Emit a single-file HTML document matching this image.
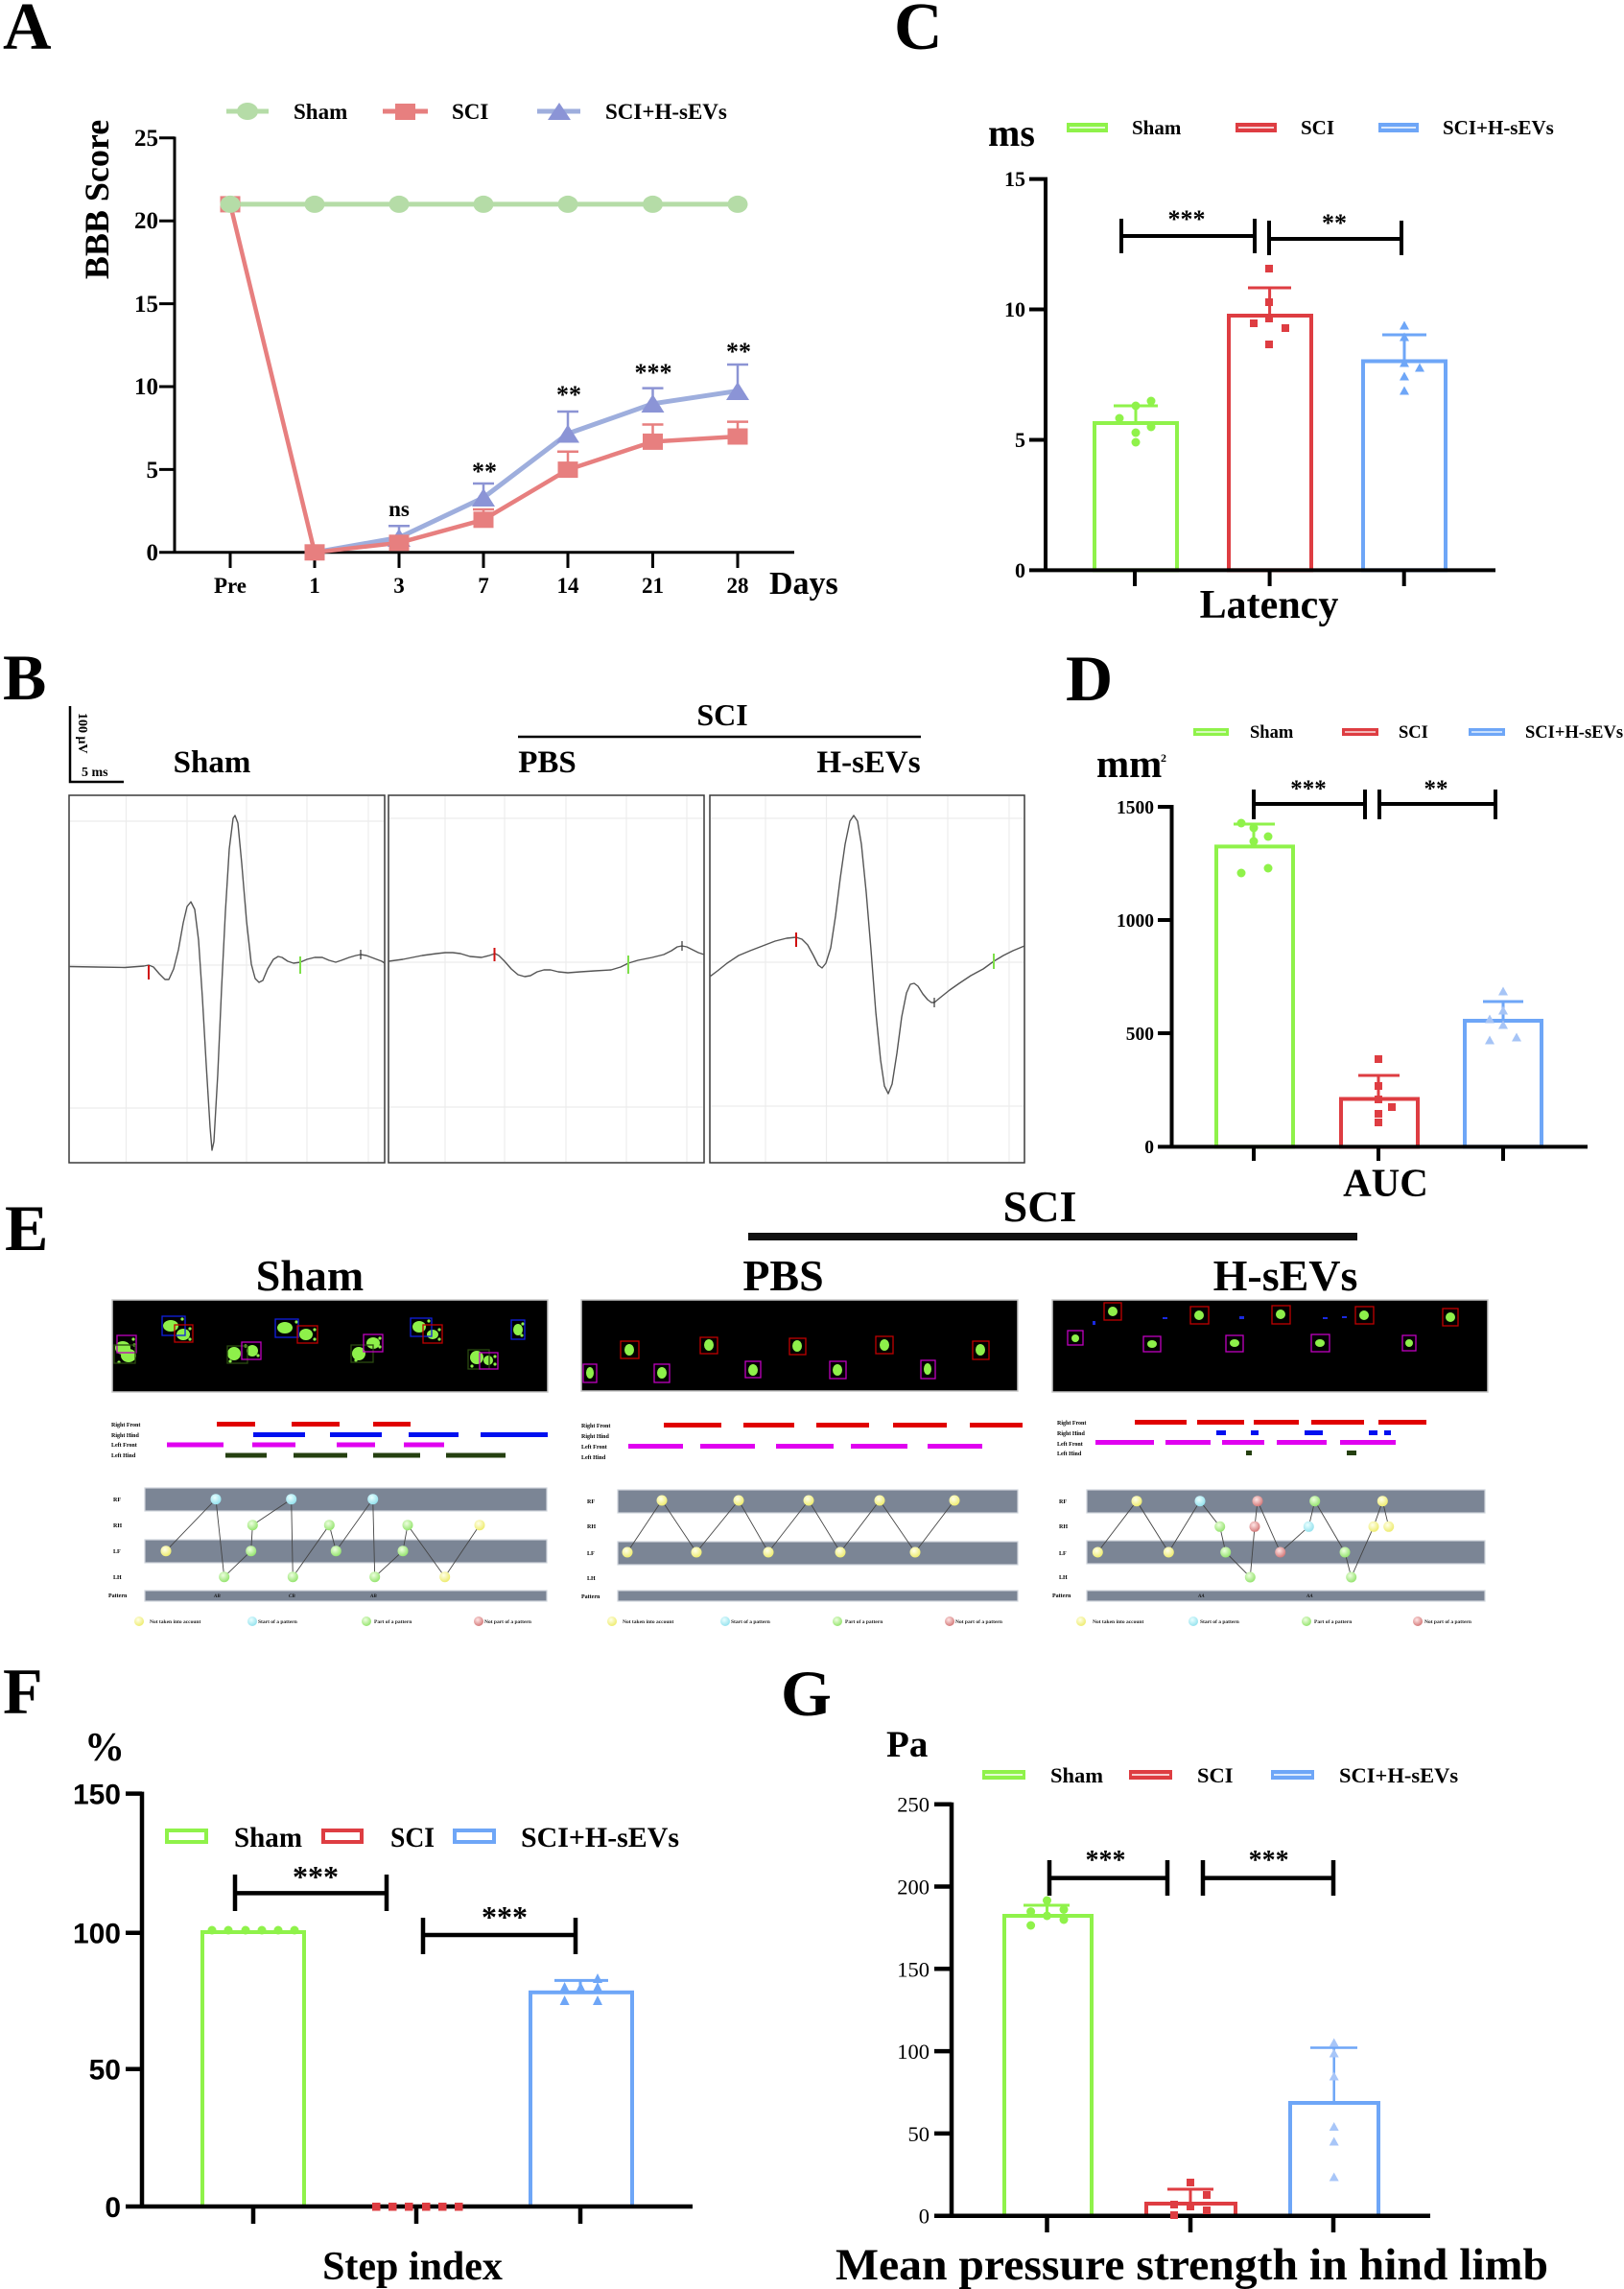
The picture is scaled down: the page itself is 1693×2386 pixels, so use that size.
<!DOCTYPE html>
<html><head><meta charset="utf-8">
<style>
html,body{margin:0;padding:0;background:#fff;}
svg{display:block;}
.s{font-family:"Liberation Serif",serif;font-weight:bold;}
.sr{font-family:"Liberation Serif",serif;font-weight:normal;}
.a{font-family:"Liberation Sans",sans-serif;font-weight:bold;}
</style></head>
<body>
<svg width="1693" height="2386" viewBox="0 0 1693 2386" xmlns="http://www.w3.org/2000/svg">
<defs>
<radialGradient id="gy" cx="40%" cy="35%" r="65%"><stop offset="0" stop-color="#ffffea"/><stop offset="1" stop-color="#eeec70"/></radialGradient>
<radialGradient id="gc" cx="40%" cy="35%" r="65%"><stop offset="0" stop-color="#eaffff"/><stop offset="1" stop-color="#96e2ee"/></radialGradient>
<radialGradient id="gg" cx="40%" cy="35%" r="65%"><stop offset="0" stop-color="#eeffe0"/><stop offset="1" stop-color="#96e470"/></radialGradient>
<radialGradient id="gr" cx="40%" cy="35%" r="65%"><stop offset="0" stop-color="#ffe6e6"/><stop offset="1" stop-color="#d47a7a"/></radialGradient>
</defs>
<rect width="1693" height="2386" fill="#fff"/>

<!-- ================= PANEL A ================= -->
<g class="s">
<text x="3" y="51" font-size="70">A</text>
<line x1="236" y1="116" x2="280" y2="116" stroke="#b5dca7" stroke-width="5"/>
<ellipse cx="258" cy="116" rx="11" ry="9" fill="#b5dca7"/>
<text x="306" y="124" font-size="23">Sham</text>
<line x1="399" y1="116" x2="446" y2="116" stroke="#e77f7f" stroke-width="5"/>
<rect x="412" y="108" width="21" height="17" fill="#e77f7f"/>
<text x="471" y="124" font-size="23">SCI</text>
<line x1="560" y1="116" x2="605" y2="116" stroke="#9eaedd" stroke-width="5"/>
<polygon points="583,107 595,125 571,125" fill="#8b94d6"/>
<text x="631" y="124" font-size="23">SCI+H-sEVs</text>
<text transform="translate(113,208) rotate(-90)" text-anchor="middle" font-size="36">BBB Score</text>
<path d="M182,142.5 V577.3 M166,143.8 H182 M166,230.2 H182 M166,316.6 H182 M166,403 H182 M166,489.4 H182 M166,575.8 H182 M180.5,575.8 H828 M240,575.8 V592 M328,575.8 V592 M416,575.8 V592 M504,575.8 V592 M592,575.8 V592 M680.5,575.8 V592 M769,575.8 V592" stroke="#000" stroke-width="3" fill="none"/>
<g font-size="25" text-anchor="end">
<text x="165" y="152">25</text><text x="165" y="238">20</text><text x="165" y="325">15</text>
<text x="165" y="411">10</text><text x="165" y="498">5</text><text x="165" y="584">0</text>
</g>
<g font-size="23" text-anchor="middle">
<text x="240" y="618">Pre</text><text x="328" y="618">1</text><text x="416" y="618">3</text>
<text x="504" y="618">7</text><text x="592" y="618">14</text><text x="680.5" y="618">21</text><text x="769" y="618">28</text>
</g>
<text x="802" y="619" font-size="34">Days</text>
<polyline points="328,575.8 416,560.4 504,518.8 592,452 680.5,420.8 769,407.5" fill="none" stroke="#9eaedd" stroke-width="5" stroke-linejoin="round"/>
<polyline points="240,212.9 328,575.8 416,565.8 504,541.8 592,489.6 680.5,460.4 769,455" fill="none" stroke="#e77f7f" stroke-width="4.5" stroke-linejoin="round"/>
<line x1="240" y1="212.9" x2="769" y2="212.9" stroke="#b5dca7" stroke-width="5"/>
<path d="M416,560 V548.3 M405,548.3 H427 M504,518 V504 M493,504 H515 M592,452 V429 M581,429 H603 M680.5,420 V404.6 M669.5,404.6 H691.5 M769,407 V380 M758,380 H780" stroke="#8c94d4" stroke-width="2.5" fill="none"/>
<path d="M504,541 V531 M493,531 H515 M592,489 V470.8 M581,470.8 H603 M680.5,460 V442.5 M669.5,442.5 H691.5 M769,455 V439.6 M758,439.6 H780" stroke="#e77f7f" stroke-width="2.5" fill="none"/>
<g fill="#8b94d6">
<polygon points="416,551 428,570 404,570"/>
<polygon points="504,509 516,528 492,528"/>
<polygon points="592,442.5 604,461.5 580,461.5"/>
<polygon points="680.5,411 692.5,430 668.5,430"/>
<polygon points="769,398 781,417 757,417"/>
</g>
<g fill="#e77f7f">
<rect x="229.5" y="204.4" width="21" height="17"/>
<rect x="317.5" y="567.3" width="21" height="17"/>
<rect x="405.5" y="557.3" width="21" height="17"/>
<rect x="493.5" y="533.3" width="21" height="17"/>
<rect x="581.5" y="481.1" width="21" height="17"/>
<rect x="670" y="451.9" width="21" height="17"/>
<rect x="758.5" y="446.5" width="21" height="17"/>
</g>
<g fill="#b5dca7">
<ellipse cx="240" cy="212.9" rx="10.5" ry="9"/>
<ellipse cx="328" cy="212.9" rx="10.5" ry="9"/>
<ellipse cx="416" cy="212.9" rx="10.5" ry="9"/>
<ellipse cx="504" cy="212.9" rx="10.5" ry="9"/>
<ellipse cx="592" cy="212.9" rx="10.5" ry="9"/>
<ellipse cx="680.5" cy="212.9" rx="10.5" ry="9"/>
<ellipse cx="769" cy="212.9" rx="10.5" ry="9"/>
</g>
<text x="416" y="538" font-size="23" text-anchor="middle">ns</text>
<g font-size="26" text-anchor="middle">
<text x="505" y="500">**</text>
<text x="593" y="420">**</text>
<text x="681" y="397">***</text>
<text x="770" y="375">**</text>
</g>
</g>

<!-- ================= PANEL C ================= -->
<g class="s">
<text x="932" y="51" font-size="70">C</text>
<text x="1030" y="152" font-size="40">ms</text>
<rect x="1112" y="128" width="43" height="10" fill="#8ff24a"/><line x1="1115" y1="133" x2="1152" y2="133" stroke="#fff" stroke-width="1.5"/>
<text x="1180" y="140" font-size="21">Sham</text>
<rect x="1288" y="128" width="43" height="10" fill="#de3d42"/><line x1="1291" y1="133" x2="1328" y2="133" stroke="#fff" stroke-width="1.5"/>
<text x="1356" y="140" font-size="21">SCI</text>
<rect x="1437" y="128" width="42" height="10" fill="#6ea6f7"/><line x1="1440" y1="133" x2="1476" y2="133" stroke="#fff" stroke-width="1.5"/>
<text x="1504" y="140" font-size="21">SCI+H-sEVs</text>
<rect x="1141" y="441" width="86" height="153.4" fill="#fff" stroke="#8ff24a" stroke-width="4"/>
<rect x="1281" y="329" width="86" height="265.4" fill="#fff" stroke="#de3d42" stroke-width="4"/>
<rect x="1421" y="376.5" width="86" height="217.9" fill="#fff" stroke="#6ea6f7" stroke-width="4"/>
<path d="M1090,184.6 V596.4 M1073,186.6 H1090 M1073,322.5 H1090 M1073,458.5 H1090 M1073,594.4 H1090 M1088,594.4 H1559 M1183,594.4 V611 M1323.6,594.4 V611 M1463.7,594.4 V611" stroke="#000" stroke-width="4" fill="none"/>
<g font-size="22" text-anchor="end">
<text x="1069" y="194">15</text><text x="1069" y="330">10</text><text x="1069" y="466">5</text><text x="1069" y="602">0</text>
</g>
<path d="M1184,441 V423 M1161,423 H1207" stroke="#8ff24a" stroke-width="3"/>
<path d="M1323.6,329 V300 M1301,300 H1346" stroke="#de3d42" stroke-width="3"/>
<path d="M1464,376 V349 M1441,349 H1487" stroke="#6ea6f7" stroke-width="3"/>
<g fill="#8ff24a">
<circle cx="1200" cy="418" r="4.5"/><circle cx="1184" cy="423" r="4.5"/><circle cx="1167" cy="436" r="4.5"/>
<circle cx="1184" cy="451" r="4.5"/><circle cx="1200" cy="445" r="4.5"/><circle cx="1184" cy="461" r="4.5"/>
</g>
<g fill="#de3d42">
<rect x="1319" y="276" width="8" height="8"/><rect x="1319" y="311" width="8" height="8"/><rect x="1303" y="333" width="8" height="8"/>
<rect x="1319" y="328" width="8" height="8"/><rect x="1336" y="338" width="8" height="8"/><rect x="1319" y="355" width="8" height="8"/>
</g>
<g fill="#6ea6f7">
<polygon points="1464,334.5 1469,343.5 1459,343.5"/><polygon points="1464,346.5 1469,355.5 1459,355.5"/>
<polygon points="1464,373.5 1469,382.5 1459,382.5"/><polygon points="1480,378.5 1485,387.5 1475,387.5"/>
<polygon points="1464,387.5 1469,396.5 1459,396.5"/><polygon points="1464,402.5 1469,411.5 1459,411.5"/>
</g>
<path d="M1169,246 H1308 M1169,228 V264 M1308,228 V264 M1323,249 H1461 M1323,230 V266 M1461,230 V266" stroke="#000" stroke-width="4" fill="none"/>
<g font-size="26" text-anchor="middle"><text x="1237" y="237">***</text><text x="1391" y="241">**</text></g>
<text x="1323" y="644" font-size="42" text-anchor="middle">Latency</text>
</g>

<!-- ================= PANEL B ================= -->
<g class="s">
<text x="3" y="729" font-size="68">B</text>
<path d="M73,736 V815 H129" stroke="#000" stroke-width="2.5" fill="none"/>
<text transform="translate(82,743) rotate(90)" font-size="14">100 μV</text>
<text x="85" y="809" font-size="14">5 ms</text>
<text x="221" y="805" font-size="33" text-anchor="middle">Sham</text>
<text x="570.5" y="805" font-size="33" text-anchor="middle">PBS</text>
<text x="905.5" y="805" font-size="33" text-anchor="middle">H-sEVs</text>
<text x="753" y="756" font-size="32" text-anchor="middle">SCI</text>
<line x1="540" y1="768" x2="960" y2="768" stroke="#000" stroke-width="2.5"/>
</g>
<g stroke="#ececec" stroke-width="1.2" fill="none">
<path d="M131.5,830 V1211 M195,830 V1211 M257,830 V1211 M320,830 V1211 M384,830 V1211 M73,856 H400 M73,1006 H400 M73,1155 H400"/>
<path d="M464,830 V1211 M526,830 V1211 M590,830 V1211 M653,830 V1211 M716,830 V1211 M406,853 H733 M406,1003 H733 M406,1154 H733"/>
<path d="M798,830 V1211 M861.5,830 V1211 M925,830 V1211 M988,830 V1211 M1052,830 V1211 M741,853 H1067 M741,1003 H1067 M741,1153 H1067"/>
</g>
<g fill="none" stroke="#3a3a3a" stroke-width="1.5">
<rect x="72" y="829" width="329" height="383"/>
<rect x="405" y="829" width="329" height="383"/>
<rect x="740" y="829" width="328" height="383"/>
</g>
<g fill="none" stroke="#555" stroke-width="1.4" stroke-linejoin="round">
<polyline points="72,1007.5 100,1008 130,1008.5 150,1007 155,1006 160,1008 166,1015 172,1021 176,1021 181,1010 186,990 191,962 195,945 199,940 203,948 207,980 211,1040 215,1110 219,1175 221,1199 223,1190 227,1120 231,1030 235,950 239,885 243,853 245,850 248,858 252,900 257,960 262,1005 266,1020 270,1024 274,1022 279,1010 285,1000 290,997 294,998 300,1002 306,1004 313,1003 320,1000 328,998 336,998 343,1001 350,1003 356,1001 364,998 371,996 376,995 382,996 390,999 398,1002 401,1004"/>
<polyline points="405,1002 420,1000 440,996 455,994 464,993 472,993 480,994 490,997 502,998 510,996 516,994 520,996 526,1002 533,1010 540,1016 547,1018 553,1017 560,1013 567,1011 574,1011 582,1013 592,1014 605,1013 620,1012 637,1011 647,1008 655,1004 665,1001 680,998 692,995 700,991 706,987 711,986 716,987 722,990 728,993 734,995"/>
<polyline points="740,1018 748,1012 758,1004 770,996 782,991 795,986 808,981 820,978 830,977 836,979 842,985 848,996 853,1006 857,1009 861,1004 866,988 871,955 876,915 881,880 886,856 890,850 894,856 898,880 903,930 908,990 913,1055 918,1105 922,1132 926,1140 930,1130 935,1098 940,1060 945,1035 949,1026 953,1025 957,1028 962,1036 967,1042 971,1045 974,1045 980,1040 990,1032 1000,1025 1012,1017 1025,1010 1036,1002 1046,996 1056,991 1068,986"/>
</g>
<g stroke-width="2">
<line x1="155" y1="1006" x2="155" y2="1021" stroke="#d01010"/>
<line x1="313" y1="997" x2="313" y2="1015" stroke="#7ee04a"/>
<line x1="376" y1="990" x2="376" y2="1000" stroke="#333" stroke-width="1.2"/>
<line x1="515.5" y1="988" x2="515.5" y2="1002" stroke="#d01010"/>
<line x1="655" y1="996" x2="655" y2="1015" stroke="#7ee04a"/>
<line x1="711" y1="981" x2="711" y2="991" stroke="#333" stroke-width="1.2"/>
<line x1="830" y1="972" x2="830" y2="987" stroke="#d01010"/>
<line x1="1036" y1="994" x2="1036" y2="1010" stroke="#7ee04a"/>
<line x1="974" y1="1040" x2="974" y2="1050" stroke="#333" stroke-width="1.2"/>
</g>

<!-- ================= PANEL D ================= -->
<g class="s">
<text x="1111" y="730" font-size="68">D</text>
<rect x="1244" y="759" width="37" height="8" fill="#8ff24a"/><line x1="1247" y1="763" x2="1278" y2="763" stroke="#fff" stroke-width="1.3"/>
<text x="1303" y="769" font-size="18.5">Sham</text>
<rect x="1399" y="759" width="38" height="8" fill="#de3d42"/><line x1="1402" y1="763" x2="1434" y2="763" stroke="#fff" stroke-width="1.3"/>
<text x="1458" y="769" font-size="18.5">SCI</text>
<rect x="1531" y="759" width="38" height="8" fill="#6ea6f7"/><line x1="1534" y1="763" x2="1566" y2="763" stroke="#fff" stroke-width="1.3"/>
<text x="1590" y="769" font-size="18.5">SCI+H-sEVs</text>
<text x="1143" y="810" font-size="41">mm</text>
<text x="1210" y="794" font-size="12">2</text>
<rect x="1268" y="882.4" width="80" height="313" fill="#fff" stroke="#8ff24a" stroke-width="4"/>
<rect x="1398" y="1145.5" width="80" height="50" fill="#fff" stroke="#de3d42" stroke-width="4"/>
<rect x="1527" y="1064" width="80" height="131.4" fill="#fff" stroke="#6ea6f7" stroke-width="4"/>
<path d="M1221.5,839 V1197.4 M1207,841 H1221.5 M1207,959 H1221.5 M1207,1077 H1221.5 M1207,1195.4 H1655 M1307,1195.4 V1210 M1437,1195.4 V1210 M1567,1195.4 V1210" stroke="#000" stroke-width="4" fill="none"/>
<g font-size="19.5" text-anchor="end">
<text x="1203" y="848">1500</text><text x="1203" y="966">1000</text><text x="1203" y="1084">500</text><text x="1203" y="1202">0</text>
</g>
<path d="M1307,882 V859 M1286,859 H1329" stroke="#8ff24a" stroke-width="3"/>
<path d="M1437,1145 V1121 M1416,1121 H1459" stroke="#de3d42" stroke-width="3"/>
<path d="M1567,1064 V1044 M1546,1044 H1588" stroke="#6ea6f7" stroke-width="3"/>
<g fill="#8ff24a">
<circle cx="1294" cy="858" r="4.5"/><circle cx="1307" cy="863" r="4.5"/><circle cx="1307" cy="877" r="4.5"/>
<circle cx="1322" cy="872" r="4.5"/><circle cx="1294" cy="910" r="4.5"/><circle cx="1322" cy="905" r="4.5"/>
</g>
<g fill="#de3d42">
<rect x="1433" y="1100" width="8" height="8"/><rect x="1433" y="1128" width="8" height="8"/><rect x="1433" y="1142" width="8" height="8"/>
<rect x="1447" y="1150" width="8" height="8"/><rect x="1433" y="1157" width="8" height="8"/><rect x="1433" y="1166" width="8" height="8"/>
</g>
<g fill="#a6c4f6">
<polygon points="1567,1028.5 1572,1037.5 1562,1037.5"/><polygon points="1567,1048.5 1572,1057.5 1562,1057.5"/>
<polygon points="1553,1057.5 1558,1066.5 1548,1066.5"/><polygon points="1567,1063.5 1572,1072.5 1562,1072.5"/>
<polygon points="1553,1079.5 1558,1088.5 1548,1088.5"/><polygon points="1581,1076.5 1586,1085.5 1576,1085.5"/>
</g>
<path d="M1307,838 H1423 M1307,823 V854 M1423,823 V854 M1438,838 H1559 M1438,823 V854 M1559,823 V854" stroke="#000" stroke-width="4" fill="none"/>
<g font-size="25" text-anchor="middle"><text x="1364" y="830">***</text><text x="1497" y="830">**</text></g>
<text x="1444.5" y="1246.5" font-size="41" text-anchor="middle">AUC</text>
</g>

<!-- ================= PANEL E ================= -->
<g class="s">
<text x="5" y="1303" font-size="68">E</text>
<text x="1084" y="1273" font-size="46" text-anchor="middle">SCI</text>
<rect x="780" y="1285" width="635" height="8" fill="#111"/>
<text x="323" y="1345" font-size="46" text-anchor="middle">Sham</text>
<text x="816.5" y="1345" font-size="46" text-anchor="middle">PBS</text>
<text x="1340" y="1345" font-size="46" text-anchor="middle">H-sEVs</text>
</g>
<g stroke="#c8c8c8" stroke-width="1.5">
<rect x="117" y="1355" width="454" height="96" fill="#000"/>
<rect x="606" y="1355" width="455" height="95" fill="#000"/>
<rect x="1097" y="1355" width="454" height="96" fill="#000"/>
</g>
<!-- box1 paws -->
<g fill="#8ef04a">
<ellipse cx="128" cy="1405" rx="8" ry="7"/><ellipse cx="134" cy="1413" rx="8" ry="7"/>
<ellipse cx="178" cy="1382" rx="8" ry="6"/><ellipse cx="191" cy="1391" rx="7" ry="6"/>
<ellipse cx="244" cy="1411" rx="7" ry="7"/><ellipse cx="263" cy="1408" rx="6" ry="6"/>
<ellipse cx="297" cy="1384" rx="8" ry="6"/><ellipse cx="319" cy="1391" rx="7" ry="6"/>
<ellipse cx="374" cy="1411" rx="7" ry="7"/><ellipse cx="389" cy="1400" rx="7" ry="6"/>
<ellipse cx="437" cy="1383" rx="7" ry="6"/><ellipse cx="451" cy="1391" rx="6" ry="5"/>
<ellipse cx="497" cy="1415" rx="7" ry="7"/><ellipse cx="509" cy="1418" rx="5" ry="5"/>
<ellipse cx="540" cy="1386" rx="5" ry="6"/>
</g>
<g fill="#8ef04a">
<circle cx="139" cy="1396" r="1.6"/><circle cx="140" cy="1402" r="1.6"/><circle cx="124" cy="1420" r="1.6"/>
<circle cx="190" cy="1375" r="1.6"/><circle cx="198" cy="1385" r="1.6"/><circle cx="198" cy="1396" r="1.6"/>
<circle cx="256" cy="1403" r="1.6"/><circle cx="269" cy="1413" r="1.6"/><circle cx="240" cy="1419" r="1.6"/>
<circle cx="309" cy="1378" r="1.6"/><circle cx="328" cy="1386" r="1.6"/><circle cx="328" cy="1396" r="1.6"/>
<circle cx="396" cy="1395" r="1.6"/><circle cx="396" cy="1404" r="1.6"/><circle cx="371" cy="1418" r="1.6"/>
<circle cx="447" cy="1377" r="1.6"/><circle cx="458" cy="1386" r="1.6"/><circle cx="458" cy="1396" r="1.6"/>
<circle cx="516" cy="1414" r="1.6"/><circle cx="516" cy="1422" r="1.6"/><circle cx="492" cy="1424" r="1.6"/>
<circle cx="545" cy="1380" r="1.6"/><circle cx="544" cy="1392" r="1.6"/>
</g>
<g fill="none" stroke-width="1.3">
<rect x="122" y="1392" width="20" height="18" stroke="#c000c0"/><rect x="119" y="1402" width="22" height="19" stroke="#2a4a10"/>
<rect x="169" y="1372" width="24" height="20" stroke="#1020e0"/><rect x="182" y="1381" width="19" height="18" stroke="#c00000"/>
<rect x="237" y="1403" width="21" height="18" stroke="#2a4a10"/><rect x="252" y="1399" width="20" height="18" stroke="#c000c0"/>
<rect x="287" y="1375" width="24" height="19" stroke="#1020e0"/><rect x="310" y="1382" width="21" height="18" stroke="#c00000"/>
<rect x="366" y="1402" width="23" height="18" stroke="#2a4a10"/><rect x="379" y="1391" width="20" height="18" stroke="#c000c0"/>
<rect x="428" y="1374" width="22" height="19" stroke="#1020e0"/><rect x="441" y="1381" width="20" height="19" stroke="#c00000"/>
<rect x="488" y="1407" width="22" height="20" stroke="#2a4a10"/><rect x="500" y="1410" width="19" height="17" stroke="#c000c0"/>
<rect x="533" y="1376" width="14" height="20" stroke="#1020e0"/>
</g>
<!-- box2 paws -->
<g fill="#8ef04a">
<ellipse cx="656" cy="1407" rx="5" ry="6"/><ellipse cx="739" cy="1402" rx="5" ry="6"/><ellipse cx="831" cy="1403" rx="5" ry="6"/>
<ellipse cx="922" cy="1402" rx="5" ry="6"/><ellipse cx="1022" cy="1407" rx="5" ry="6"/>
<ellipse cx="615" cy="1431" rx="4" ry="6"/><ellipse cx="690" cy="1431" rx="5" ry="6"/><ellipse cx="785" cy="1428" rx="5" ry="6"/>
<ellipse cx="873" cy="1428" rx="5" ry="6"/><ellipse cx="967" cy="1427" rx="4" ry="6"/>
</g>
<g fill="none" stroke-width="1.3">
<rect x="647" y="1398" width="19" height="18" stroke="#c00000"/><rect x="730" y="1394" width="18" height="17" stroke="#c00000"/>
<rect x="823" y="1395" width="17" height="17" stroke="#c00000"/><rect x="913" y="1393" width="18" height="18" stroke="#c00000"/>
<rect x="1014" y="1398" width="17" height="19" stroke="#c00000"/>
<rect x="608" y="1422" width="14" height="19" stroke="#c000c0"/><rect x="682" y="1422" width="16" height="19" stroke="#c000c0"/>
<rect x="777" y="1419" width="16" height="17" stroke="#c000c0"/><rect x="865" y="1419" width="17" height="18" stroke="#c000c0"/>
<rect x="960" y="1418" width="15" height="19" stroke="#c000c0"/>
</g>
<!-- box3 paws -->
<g fill="#8ef04a">
<ellipse cx="1160" cy="1367" rx="5" ry="5"/><ellipse cx="1250" cy="1371" rx="5" ry="5"/><ellipse cx="1335" cy="1370" rx="5" ry="5"/>
<ellipse cx="1422" cy="1371" rx="5" ry="5"/><ellipse cx="1512" cy="1373" rx="5" ry="5"/>
<ellipse cx="1121" cy="1395" rx="4" ry="4"/><ellipse cx="1201" cy="1401" rx="5" ry="4"/><ellipse cx="1287" cy="1400" rx="5" ry="4"/>
<ellipse cx="1376" cy="1400" rx="5" ry="4"/><ellipse cx="1469" cy="1400" rx="4" ry="4"/>
</g>
<g fill="none" stroke-width="1.3">
<rect x="1151" y="1358" width="18" height="18" stroke="#c00000"/><rect x="1241" y="1362" width="19" height="18" stroke="#c00000"/>
<rect x="1326" y="1361" width="19" height="19" stroke="#c00000"/><rect x="1413" y="1362" width="19" height="18" stroke="#c00000"/>
<rect x="1504" y="1364" width="16" height="18" stroke="#c00000"/>
<rect x="1113" y="1387" width="16" height="15" stroke="#c000c0"/><rect x="1192" y="1393" width="18" height="16" stroke="#c000c0"/>
<rect x="1278" y="1392" width="18" height="17" stroke="#c000c0"/><rect x="1367" y="1391" width="19" height="18" stroke="#c000c0"/>
<rect x="1462" y="1392" width="14" height="16" stroke="#c000c0"/>
</g>
<g fill="#1a2ae0">
<rect x="1139" y="1377" width="3" height="4"/><rect x="1212" y="1373" width="5" height="2"/><rect x="1292" y="1372" width="5" height="3"/>
<rect x="1379" y="1373" width="5" height="2"/><rect x="1399" y="1372" width="5" height="2"/>
</g>

<!-- gait bars -->
<g class="s" font-size="6">
<text x="116" y="1487">Right Front</text><text x="116" y="1498">Right Hind</text><text x="116" y="1508">Left Front</text><text x="116" y="1519">Left Hind</text>
<text x="606" y="1488">Right Front</text><text x="606" y="1499">Right Hind</text><text x="606" y="1510">Left Front</text><text x="606" y="1521">Left Hind</text>
<text x="1102" y="1485">Right Front</text><text x="1102" y="1496">Right Hind</text><text x="1102" y="1507">Left Front</text><text x="1102" y="1517">Left Hind</text>
</g>
<g fill="#e00000">
<rect x="226" y="1482" width="40" height="5"/><rect x="304" y="1482" width="50" height="5"/><rect x="389" y="1482" width="39" height="5"/>
<rect x="692" y="1483" width="60" height="5"/><rect x="775" y="1483" width="53" height="5"/><rect x="851" y="1483" width="55" height="5"/><rect x="931" y="1483" width="56" height="5"/><rect x="1011" y="1483" width="55" height="5"/>
<rect x="1183" y="1480" width="54" height="5"/><rect x="1248" y="1480" width="49" height="5"/><rect x="1307" y="1480" width="47" height="5"/><rect x="1367" y="1480" width="55" height="5"/><rect x="1437" y="1480" width="50" height="5"/>
</g>
<g fill="#0010f0">
<rect x="264" y="1493" width="54" height="5"/><rect x="344" y="1493" width="54" height="5"/><rect x="426" y="1493" width="52" height="5"/><rect x="501" y="1493" width="70" height="5"/>
<rect x="1268" y="1491" width="10" height="5"/><rect x="1304" y="1491" width="8" height="5"/><rect x="1360" y="1491" width="19" height="5"/><rect x="1427" y="1491" width="9" height="5"/><rect x="1443" y="1491" width="7" height="5"/>
</g>
<g fill="#e000f0">
<rect x="174" y="1503.5" width="59" height="5"/><rect x="263" y="1503.5" width="45" height="5"/><rect x="351" y="1503.5" width="40" height="5"/><rect x="421" y="1503.5" width="42" height="5"/>
<rect x="655" y="1505" width="57" height="5"/><rect x="730" y="1505" width="57" height="5"/><rect x="809" y="1505" width="60" height="5"/><rect x="887" y="1505" width="59" height="5"/><rect x="967" y="1505" width="57" height="5"/>
<rect x="1142" y="1501" width="61" height="5"/><rect x="1215" y="1501" width="47" height="5"/><rect x="1274" y="1501" width="44" height="5"/><rect x="1331" y="1501" width="52" height="5"/><rect x="1397" y="1501" width="58" height="5"/>
</g>
<g fill="#254010">
<rect x="235" y="1514.5" width="43" height="5"/><rect x="306" y="1514.5" width="56" height="5"/><rect x="389" y="1514.5" width="49" height="5"/><rect x="465" y="1514.5" width="62" height="5"/>
<rect x="1299" y="1512" width="6" height="5"/><rect x="1404" y="1512" width="10" height="5"/>
</g>

<g fill="#7b8595" stroke="#cfd4db" stroke-width="1.2">
<rect x="151" y="1551" width="419" height="24"/><rect x="151" y="1605" width="419" height="24"/><rect x="151" y="1658" width="419" height="11"/>
<rect x="644" y="1553" width="417" height="24"/><rect x="644" y="1607" width="417" height="24"/><rect x="644" y="1658" width="417" height="11"/>
<rect x="1133" y="1553" width="415" height="24"/><rect x="1133" y="1606" width="415" height="24"/><rect x="1133" y="1658" width="415" height="11"/>
</g>
<g class="s" font-size="6">
<text x="118" y="1565">RF</text><text x="118" y="1592">RH</text><text x="118" y="1619">LF</text><text x="118" y="1646">LH</text><text x="113" y="1665">Pattern</text>
<text x="612" y="1567">RF</text><text x="612" y="1593">RH</text><text x="612" y="1621">LF</text><text x="612" y="1647">LH</text><text x="606" y="1666">Pattern</text>
<text x="1104" y="1567">RF</text><text x="1104" y="1593">RH</text><text x="1104" y="1621">LF</text><text x="1104" y="1646">LH</text><text x="1097" y="1665">Pattern</text>
</g>
<g class="s" font-size="5" font-style="italic" fill="#111">
<text x="223" y="1665">AB</text><text x="301" y="1665">CB</text><text x="386" y="1665">AB</text>
<text x="1249" y="1665">AA</text><text x="1362" y="1665">AA</text>
</g>
<g fill="none" stroke="#444" stroke-width="0.9">
<polyline points="173,1616.7 225,1562.7 233.7,1643.7 261.7,1616.7 263.3,1589.7 303.7,1562.7 305.3,1643.7 343.3,1589.7 350.3,1616.7 388.7,1562.7 390.7,1643.7 420,1616.7 425,1589.7 463.7,1643.7 500,1589.7"/>
<polyline points="654,1618 690,1564 726,1618 770,1564 801,1618 843,1564 876,1618 917,1564 954,1618 995,1564"/>
<polyline points="1144.3,1618 1185,1564.7 1218.3,1618 1251,1564.7 1271.7,1591.3 1277.7,1618 1303.3,1644 1308,1591.3 1311,1564.7 1334.7,1618 1364.3,1591.3 1370.7,1564.7 1402,1618 1408.7,1644 1432,1591.3 1441.3,1564.7 1447.7,1591.3"/>
</g>
<g>
<circle cx="225" cy="1562.7" r="5.5" fill="url(#gc)"/><circle cx="303.7" cy="1562.7" r="5.5" fill="url(#gc)"/><circle cx="388.7" cy="1562.7" r="5.5" fill="url(#gc)"/>
<circle cx="263.3" cy="1589.7" r="5.5" fill="url(#gg)"/><circle cx="343.3" cy="1589.7" r="5.5" fill="url(#gg)"/><circle cx="425" cy="1589.7" r="5.5" fill="url(#gg)"/><circle cx="500" cy="1589.7" r="5.5" fill="url(#gy)"/>
<circle cx="173" cy="1616.7" r="5.5" fill="url(#gy)"/><circle cx="261.7" cy="1616.7" r="5.5" fill="url(#gg)"/><circle cx="350.3" cy="1616.7" r="5.5" fill="url(#gg)"/><circle cx="420" cy="1616.7" r="5.5" fill="url(#gg)"/>
<circle cx="233.7" cy="1643.7" r="5.5" fill="url(#gg)"/><circle cx="305.3" cy="1643.7" r="5.5" fill="url(#gg)"/><circle cx="390.7" cy="1643.7" r="5.5" fill="url(#gg)"/><circle cx="463.7" cy="1643.7" r="5.5" fill="url(#gy)"/>
<circle cx="690" cy="1564" r="5.5" fill="url(#gy)"/><circle cx="770" cy="1564" r="5.5" fill="url(#gy)"/><circle cx="843" cy="1564" r="5.5" fill="url(#gy)"/><circle cx="917" cy="1564" r="5.5" fill="url(#gy)"/><circle cx="995" cy="1564" r="5.5" fill="url(#gy)"/>
<circle cx="654" cy="1618" r="5.5" fill="url(#gy)"/><circle cx="726" cy="1618" r="5.5" fill="url(#gy)"/><circle cx="801" cy="1618" r="5.5" fill="url(#gy)"/><circle cx="876" cy="1618" r="5.5" fill="url(#gy)"/><circle cx="954" cy="1618" r="5.5" fill="url(#gy)"/>
<circle cx="1185" cy="1564.7" r="5.5" fill="url(#gy)"/><circle cx="1251" cy="1564.7" r="5.5" fill="url(#gc)"/><circle cx="1311" cy="1564.7" r="5.5" fill="url(#gr)"/><circle cx="1370.7" cy="1564.7" r="5.5" fill="url(#gg)"/><circle cx="1441.3" cy="1564.7" r="5.5" fill="url(#gy)"/>
<circle cx="1271.7" cy="1591.3" r="5.5" fill="url(#gg)"/><circle cx="1308" cy="1591.3" r="5.5" fill="url(#gr)"/><circle cx="1364.3" cy="1591.3" r="5.5" fill="url(#gc)"/><circle cx="1432" cy="1591.3" r="5.5" fill="url(#gy)"/><circle cx="1447.7" cy="1591.3" r="5.5" fill="url(#gy)"/>
<circle cx="1144.3" cy="1618" r="5.5" fill="url(#gy)"/><circle cx="1218.3" cy="1618" r="5.5" fill="url(#gy)"/><circle cx="1277.7" cy="1618" r="5.5" fill="url(#gg)"/><circle cx="1334.7" cy="1618" r="5.5" fill="url(#gr)"/><circle cx="1402" cy="1618" r="5.5" fill="url(#gg)"/>
<circle cx="1303.3" cy="1644" r="5.5" fill="url(#gg)"/><circle cx="1408.7" cy="1644" r="5.5" fill="url(#gg)"/>
</g>
<g>
<circle cx="145" cy="1690" r="5" fill="url(#gy)"/><circle cx="263" cy="1690" r="5" fill="url(#gc)"/><circle cx="382" cy="1690" r="5" fill="url(#gg)"/><circle cx="499" cy="1690" r="5" fill="url(#gr)"/>
<circle cx="638" cy="1690" r="5" fill="url(#gy)"/><circle cx="756" cy="1690" r="5" fill="url(#gc)"/><circle cx="873" cy="1690" r="5" fill="url(#gg)"/><circle cx="990" cy="1690" r="5" fill="url(#gr)"/>
<circle cx="1127" cy="1690" r="5" fill="url(#gy)"/><circle cx="1244" cy="1690" r="5" fill="url(#gc)"/><circle cx="1362" cy="1690" r="5" fill="url(#gg)"/><circle cx="1478" cy="1690" r="5" fill="url(#gr)"/>
</g>
<g class="s" font-size="5.5" fill="#222">
<text x="156" y="1692">Not taken into account</text><text x="269" y="1692">Start of a pattern</text><text x="390" y="1692">Part of a pattern</text><text x="505" y="1692">Not part of a pattern</text>
<text x="649" y="1692">Not taken into account</text><text x="762" y="1692">Start of a pattern</text><text x="881" y="1692">Part of a pattern</text><text x="996" y="1692">Not part of a pattern</text>
<text x="1139" y="1692">Not taken into account</text><text x="1251" y="1692">Start of a pattern</text><text x="1370" y="1692">Part of a pattern</text><text x="1485" y="1692">Not part of a pattern</text>
</g>

<!-- ================= PANEL F ================= -->
<g class="s">
<text x="3" y="1786" font-size="68">F</text>
<text x="88" y="1835" font-size="42">%</text>
<rect x="174" y="1908" width="41" height="12" fill="#fff" stroke="#8ff24a" stroke-width="4"/>
<text x="244" y="1925" font-size="30" textLength="71" lengthAdjust="spacingAndGlyphs">Sham</text>
<rect x="337" y="1908" width="40" height="12" fill="#fff" stroke="#de3d42" stroke-width="4"/>
<text x="407" y="1925" font-size="30" textLength="46" lengthAdjust="spacingAndGlyphs">SCI</text>
<rect x="474" y="1908" width="41" height="12" fill="#fff" stroke="#6ea6f7" stroke-width="4"/>
<text x="543" y="1925" font-size="30" textLength="165" lengthAdjust="spacingAndGlyphs">SCI+H-sEVs</text>
<rect x="211" y="2014" width="106" height="286" fill="#fff" stroke="#8ff24a" stroke-width="4"/>
<rect x="553" y="2076.8" width="106" height="223.2" fill="#fff" stroke="#6ea6f7" stroke-width="4"/>
<path d="M148,1867.6 V2302.2 M131,1869.6 H148 M131,2014.8 H148 M131,2156.8 H148 M131,2300 H148 M134,2300 H722 M264,2300 V2318 M434,2300 V2318 M605,2300 V2318" stroke="#000" stroke-width="4.5" fill="none"/>
<path d="M605,2077 V2064.4 M578,2064.4 H634" stroke="#6ea6f7" stroke-width="3"/>
<g fill="#8ff24a">
<circle cx="221" cy="2012" r="4.5"/><circle cx="238" cy="2012" r="4.5"/><circle cx="256" cy="2012" r="4.5"/>
<circle cx="273" cy="2012" r="4.5"/><circle cx="290" cy="2012" r="4.5"/><circle cx="307" cy="2012" r="4.5"/>
</g>
<g fill="#de3d42">
<rect x="388" y="2296" width="8.5" height="8.5"/><rect x="405" y="2296" width="8.5" height="8.5"/><rect x="422" y="2296" width="8.5" height="8.5"/>
<rect x="440" y="2296" width="8.5" height="8.5"/><rect x="457" y="2296" width="8.5" height="8.5"/><rect x="474" y="2296" width="8.5" height="8.5"/>
</g>
<g fill="#6ea6f7">
<polygon points="588.6,2066 593.6,2076 583.6,2076"/><polygon points="605.4,2066 610.4,2076 600.4,2076"/>
<polygon points="623,2057 628,2067 618,2067"/><polygon points="588.6,2080 593.6,2090 583.6,2090"/>
<polygon points="623,2080 628,2090 618,2090"/><polygon points="623,2066 628,2076 618,2076"/>
</g>
<path d="M245,1973.4 H403 M245,1954 V1992 M403,1954 V1992 M441,2017 H600 M441,1999 V2037 M600,1999 V2037" stroke="#000" stroke-width="4.5" fill="none"/>
<g font-size="32" text-anchor="middle"><text x="329" y="1967">***</text><text x="526" y="2009">***</text></g>
<text x="430" y="2376" font-size="42" text-anchor="middle">Step index</text>
</g>
<g class="a" font-size="30" text-anchor="end">
<text x="126" y="1880.5">150</text><text x="126" y="2025.5">100</text><text x="126" y="2167.5">50</text><text x="126" y="2311">0</text>
</g>

<!-- ================= PANEL G ================= -->
<g class="s">
<text x="814" y="1788" font-size="68">G</text>
<text x="924" y="1831" font-size="39">Pa</text>
<rect x="1024" y="1845" width="45" height="10" fill="#8ff24a"/><line x1="1027" y1="1850" x2="1066" y2="1850" stroke="#fff" stroke-width="1.5"/>
<text x="1095" y="1858" font-size="22.5">Sham</text>
<rect x="1177" y="1845" width="45" height="10" fill="#de3d42"/><line x1="1180" y1="1850" x2="1219" y2="1850" stroke="#fff" stroke-width="1.5"/>
<text x="1248" y="1858" font-size="22.5">SCI</text>
<rect x="1325" y="1845" width="45" height="10" fill="#6ea6f7"/><line x1="1328" y1="1850" x2="1367" y2="1850" stroke="#fff" stroke-width="1.5"/>
<text x="1396" y="1858" font-size="22.5">SCI+H-sEVs</text>
<rect x="1047" y="1997" width="91" height="312.7" fill="#fff" stroke="#8ff24a" stroke-width="4"/>
<rect x="1195" y="2297" width="93" height="12.7" fill="#fff" stroke="#de3d42" stroke-width="4"/>
<rect x="1345" y="2192" width="92" height="117.7" fill="#fff" stroke="#6ea6f7" stroke-width="4"/>
<path d="M992,1878.7 V2311.9 M974,1880.7 H992 M974,1966.5 H992 M974,2052.3 H992 M974,2138.1 H992 M974,2223.9 H992 M974,2309.7 H992 M975,2309.7 H1491 M1091.5,2309.7 V2327 M1241,2309.7 V2327 M1390,2309.7 V2327" stroke="#000" stroke-width="4.5" fill="none"/>
<path d="M1091.5,1997 V1986 M1067,1986 H1115" stroke="#8ff24a" stroke-width="3"/>
<path d="M1241,2297 V2282 M1217,2282 H1265" stroke="#de3d42" stroke-width="3"/>
<path d="M1390.7,2192 V2134.5 M1366,2134.5 H1415" stroke="#6ea6f7" stroke-width="2.5"/>
<g fill="#8ff24a">
<circle cx="1091.5" cy="1981" r="4.5"/><circle cx="1074.6" cy="1992.6" r="4.5"/><circle cx="1109" cy="1990.5" r="4.5"/>
<circle cx="1091.5" cy="1997" r="4.5"/><circle cx="1074.6" cy="2007" r="4.5"/><circle cx="1109" cy="2001" r="4.5"/>
</g>
<g fill="#de3d42">
<rect x="1237" y="2271" width="8" height="8"/><rect x="1254" y="2284" width="8" height="8"/><rect x="1220" y="2294" width="8" height="8"/>
<rect x="1237" y="2296" width="8" height="8"/><rect x="1254" y="2300" width="8" height="8"/><rect x="1220" y="2305" width="8" height="8"/>
</g>
<g fill="#a8c6f8">
<polygon points="1390.7,2124.5 1395.7,2133.5 1385.7,2133.5"/><polygon points="1390.7,2135.5 1395.7,2144.5 1385.7,2144.5"/>
<polygon points="1390.7,2159.5 1395.7,2168.5 1385.7,2168.5"/><polygon points="1390.7,2212 1395.7,2221 1385.7,2221"/>
<polygon points="1390.7,2227.5 1395.7,2236.5 1385.7,2236.5"/><polygon points="1390.7,2264.5 1395.7,2273.5 1385.7,2273.5"/>
</g>
<path d="M1094,1957.6 H1217 M1094,1939 V1976 M1217,1939 V1976 M1254,1957.6 H1390 M1254,1939 V1976 M1390,1939 V1976" stroke="#000" stroke-width="4.5" fill="none"/>
<g font-size="28" text-anchor="middle"><text x="1152.5" y="1948">***</text><text x="1322.6" y="1948">***</text></g>
<text x="871" y="2376" font-size="47" textLength="743" lengthAdjust="spacingAndGlyphs">Mean pressure strength in hind limb</text>
</g>
<g class="sr" font-size="22.5" text-anchor="end">
<text x="969" y="1888.7">250</text><text x="969" y="1974.5">200</text><text x="969" y="2060.3">150</text>
<text x="969" y="2146.1">100</text><text x="969" y="2231.9">50</text><text x="969" y="2317.7">0</text>
</g>
</svg>
</body></html>
